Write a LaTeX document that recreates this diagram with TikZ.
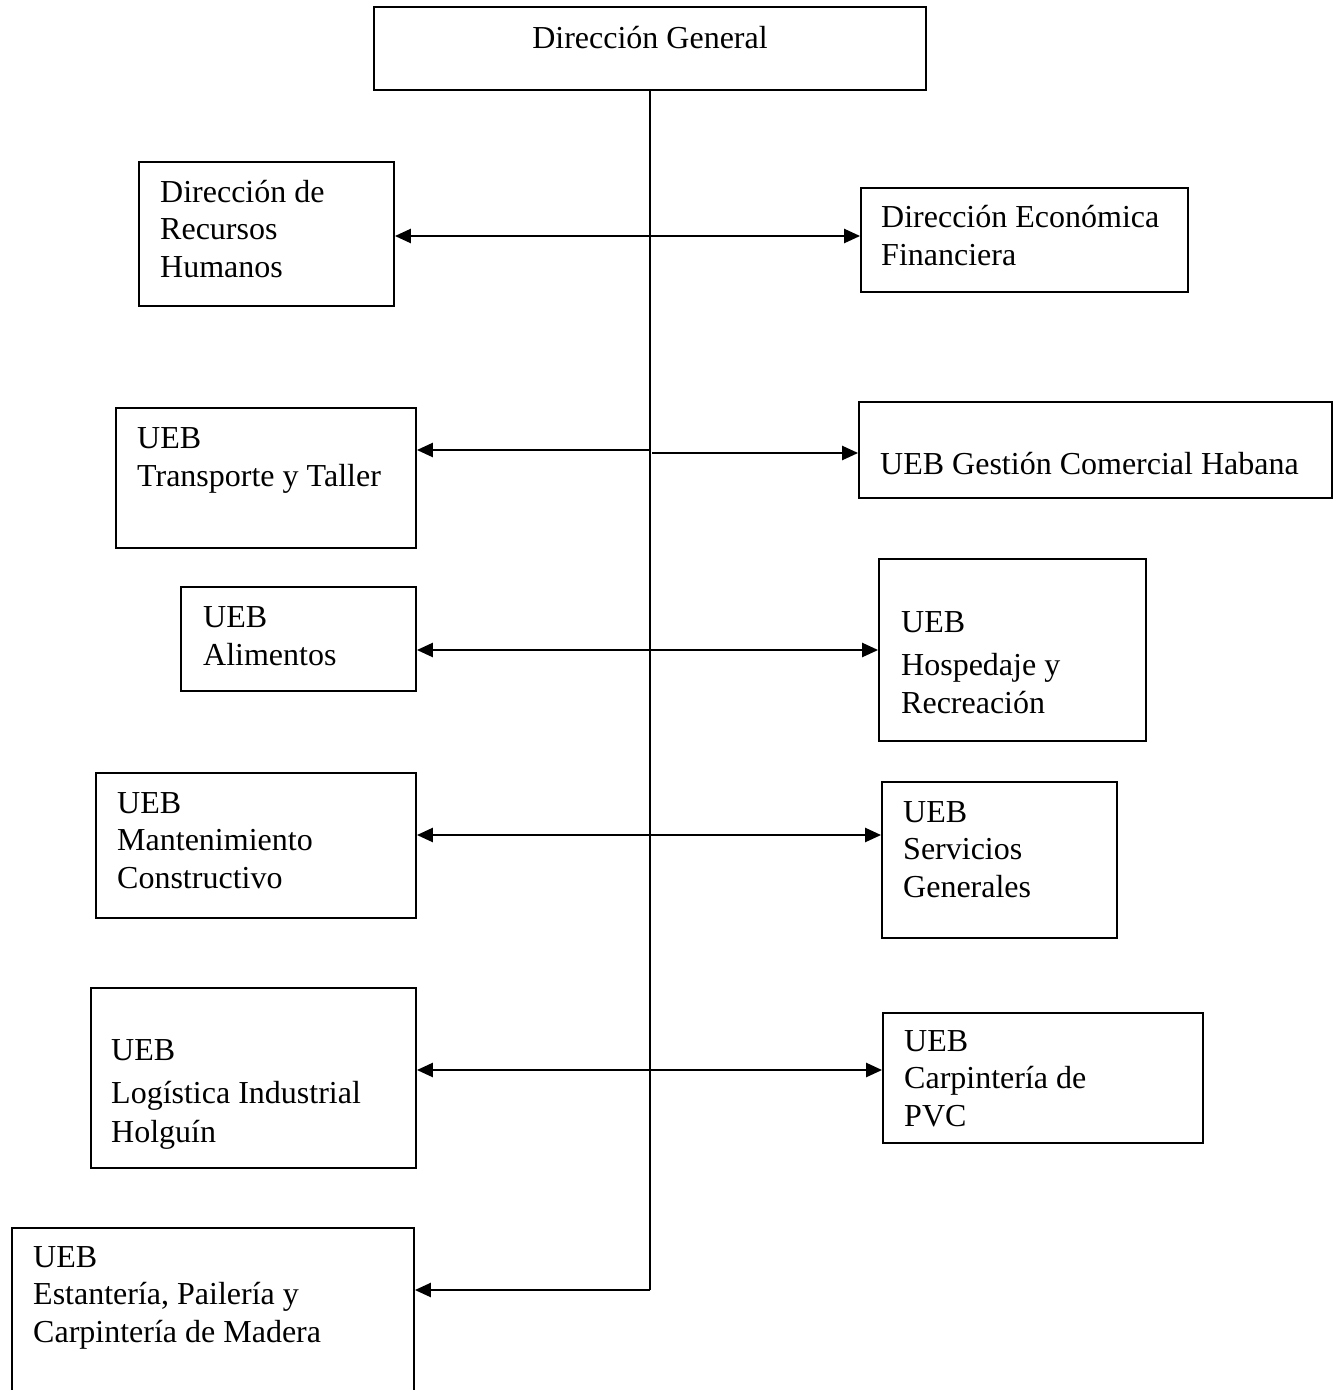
\documentclass[tikz,border=0pt]{standalone}
\usepackage{fontspec}
\setmainfont{Liberation Serif}
\usetikzlibrary{arrows.meta}
\begin{document}
\begin{tikzpicture}[x=1pt,y=-1pt,
  box/.style={draw,line width=1.8pt,inner sep=0pt,rectangle},
  lbl/.style={inner sep=0pt,anchor=base west,align=left,font=\fontsize{32}{37.5}\selectfont},
  conn/.style={line width=2.4pt},
  tip/.style={-{Triangle[length=16pt,width=14pt]}},
  tips/.style={{Triangle[length=16pt,width=14pt]}-{Triangle[length=16pt,width=14pt]}}]
\useasboundingbox (0,0) rectangle (1335,1390);
\fill[white] (0,0) rectangle (1335,1390);
% boxes: center, width, height
\node[box,minimum width=552pt,minimum height=83pt] (dg) at (650,48.5) {};
\node[box,minimum width=255pt,minimum height=144pt] (drh) at (266.5,234) {};
\node[box,minimum width=327pt,minimum height=104pt] (def) at (1024.5,240) {};
\node[box,minimum width=300pt,minimum height=140pt] (tra) at (266,478) {};
\node[box,minimum width=473pt,minimum height=96pt] (ges) at (1095.5,450) {};
\node[box,minimum width=235pt,minimum height=104pt] (ali) at (298.5,639) {};
\node[box,minimum width=267pt,minimum height=182pt] (hos) at (1012.5,650) {};
\node[box,minimum width=320pt,minimum height=145pt] (man) at (256,845.5) {};
\node[box,minimum width=235pt,minimum height=156pt] (ser) at (999.5,860) {};
\node[box,minimum width=325pt,minimum height=180pt] (log) at (253.5,1078) {};
\node[box,minimum width=320pt,minimum height=130pt] (pvc) at (1043,1078) {};
\node[box,minimum width=402pt,minimum height=172pt] (est) at (213,1314) {};
% texts (anchor at baseline of last line)
\node[lbl,anchor=base] (dg-t) at (650,48) {Dirección General};
\node[lbl] (drh-t) at (160,277) {Dirección de\\Recursos\\Humanos};
\node[lbl] (def-t) at (881,265) {Dirección Económica\\Financiera};
\node[lbl] (tra-t) at (137,486) {UEB\\Transporte y Taller};
\node[lbl] (ges-t) at (880,474) {UEB Gestión Comercial Habana};
\node[lbl] (ali-t) at (203,665) {UEB\\Alimentos};
\node[lbl] (hos-t) at (901,713) {UEB\\[5.5pt]Hospedaje y\\Recreación};
\node[lbl] (man-t) at (117,888) {UEB\\Mantenimiento\\Constructivo};
\node[lbl] (ser-t) at (903,897) {UEB\\Servicios\\Generales};
\node[lbl] (log-t) at (111,1142) {UEB\\[5.5pt]Logística Industrial\\[1.5pt]Holguín};
\node[lbl] (pvc-t) at (904,1126) {UEB\\Carpintería de\\PVC};
\node[lbl] (est-t) at (33,1342) {UEB\\Estantería, Pailería y\\Carpintería de Madera};
% trunk coordinates
\coordinate (r1) at (650,236);
\coordinate (r2a) at (650,450);
\coordinate (r2b) at (652,453);
\coordinate (r3) at (650,650);
\coordinate (r4) at (650,835);
\coordinate (r5) at (650,1070);
\coordinate (r6) at (650,1290);
% connectors
\draw[line width=1.8pt] (dg.south) -- (r6);
\draw[conn,tips] (drh.east |- r1) -- (def.west |- r1);
\draw[conn,tip] (r2a) -- (tra.east |- r2a);
\draw[conn,tip] (r2b) -- (ges.west |- r2b);
\draw[conn,tips] (ali.east |- r3) -- (hos.west |- r3);
\draw[conn,tips] (man.east |- r4) -- (ser.west |- r4);
\draw[conn,tips] (log.east |- r5) -- (pvc.west |- r5);
\draw[conn,tip] (r6) -- (est.east |- r6);
\end{tikzpicture}
\end{document}
